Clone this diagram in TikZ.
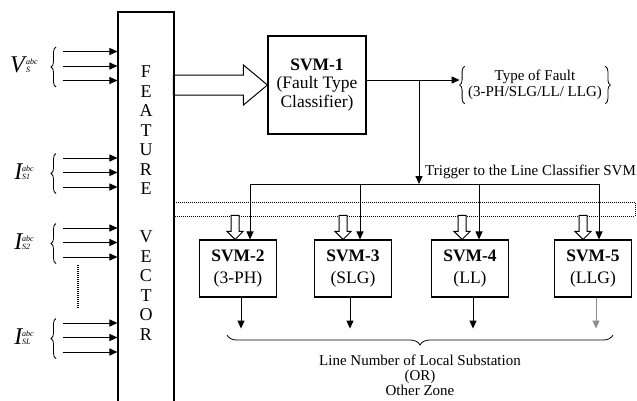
\documentclass[tikz,border=0pt]{standalone}
\usepackage{fontspec}
\setmainfont{Liberation Serif}
\usetikzlibrary{arrows.meta,decorations.pathreplacing}
\tikzset{
  blk/.style={draw, line width=1.1pt, align=center, font=\fontsize{17.5}{18.5}\selectfont},
  note/.style={align=center, font=\fontsize{15}{16.5}\selectfont},
  arr/.style={line width=1pt, -{Triangle[length=8pt,width=7pt]}},
  hollow/.style={draw, line width=1pt, fill=white},
  brc/.style={line width=0.8pt, decorate, decoration={brace, amplitude=5pt}},
  letter/.style={font=\fontsize{18}{18}\selectfont},
}
\newcommand{\siglab}[2]{\fontsize{24}{24}\selectfont\textit{#1}\kern-1pt{\fontsize{8}{9}\selectfont\itshape\begin{tabular}[b]{@{}l@{}}abc\\[-1pt]#2\end{tabular}}}
\begin{document}
\begin{tikzpicture}[x=1pt,y=-1pt]
\useasboundingbox (0,0) rectangle (637,400);
\node[draw, line width=1.1pt, minimum width=56pt, minimum height=392pt] (feat) at (146,208) {};
\foreach \c/\y [count=\i] in {F/72,E/91.5,A/111,T/130.5,U/150,R/169.5,E/189,V/237,E/256.5,C/276,T/295.5,O/315,R/334.5}
  \node[letter] (fv\i) at (146,\y) {\c};
\foreach \s/\sub/\yc [count=\g] in {V/S/66, I/S1/172.5, I/S2/242.5, I/SL/337.5}{
  \node (sig\g) at (24,\yc) {\siglab{\s}{\sub}};
  \draw[brc] (56,\yc+21) -- (56,\yc-19);
  \foreach \d [count=\k] in {-14.5,0,14.5}{
    \coordinate (in\g\k) at (63,\yc+\d);
    \draw[arr] (in\g\k) -- (in\g\k -| feat.west);
  }
}
\draw[line width=1.4pt, dash pattern=on 1pt off 1pt] (78,265) -- (78,309);
\node[blk, minimum width=98pt, minimum height=98pt] (svm1) at (317,85) {\textbf{SVM-1}\\(Fault Type\\Classifier)};
\draw[line width=1pt] (svm1.west) -- ++(-24,-20) -- ++(0,10) -- ++(-70,0) -- ++(0,20) -- ++(70,0) -- ++(0,10) -- cycle;
\node[note] (ftype) at (535,85) {Type of Fault\\(3-PH/SLG/LL/ LLG)};
\draw[brc] (ftype.south west) -- (ftype.north west);
\draw[brc] (ftype.north east) -- (ftype.south east);
\coordinate (tap) at ([yshift=5pt]svm1.east);
\coordinate (fin) at ([xshift=-5pt]ftype.west);
\draw[arr] (tap) -- (tap -| fin);
\coordinate (bus) at (419,184);
\draw[arr] (tap -| bus) -- (bus);
\node[note, anchor=south west, inner sep=1pt] (trig) at ([xshift=5pt,yshift=4pt]bus) {Trigger to the Line Classifier SVM};
\node[draw, line width=1pt, dash pattern=on 1pt off 1pt, minimum width=462pt, minimum height=14pt] (zone) at (404,209) {};
\foreach \n/\t/\x/\h/\d/\o/\col in {2/3-PH/238/-3/12/3/black, 3/SLG/353/-10/7/-3/black, 4/LL/470/-8/9/3/black, 5/LLG/593/-10/6/3/black!45}{
  \node[blk, minimum width=77pt, minimum height=57pt] (svm\n) at (\x,268.5) {\textbf{SVM-\n}\\[3pt](\t)};
  \coordinate (br\n) at ([xshift=\d pt]svm\n.north);
  \draw[arr] (br\n |- bus) -- (br\n);
  \coordinate (ho\n) at ([xshift=\h pt]svm\n.north);
  \draw[hollow] (ho\n) -- ++(-8,-8) -- ++(4,0) -- ++(0,-16) -- ++(8,0) -- ++(0,16) -- ++(4,0) -- cycle;
  \coordinate (ot\n) at ([xshift=\o pt]svm\n.south);
  \draw[arr, \col] (ot\n) -- ++(0,31);
}
\draw[line width=1pt] (br2 |- bus) -- (br5 |- bus);
\draw[brc, decoration={brace, amplitude=10pt, mirror}] (227,335) -- (613,335);
\node[note, font=\fontsize{15}{15}\selectfont] (lineno) at (420,375) {Line Number of Local Substation\\(OR)\\Other Zone};
\end{tikzpicture}
\end{document}
